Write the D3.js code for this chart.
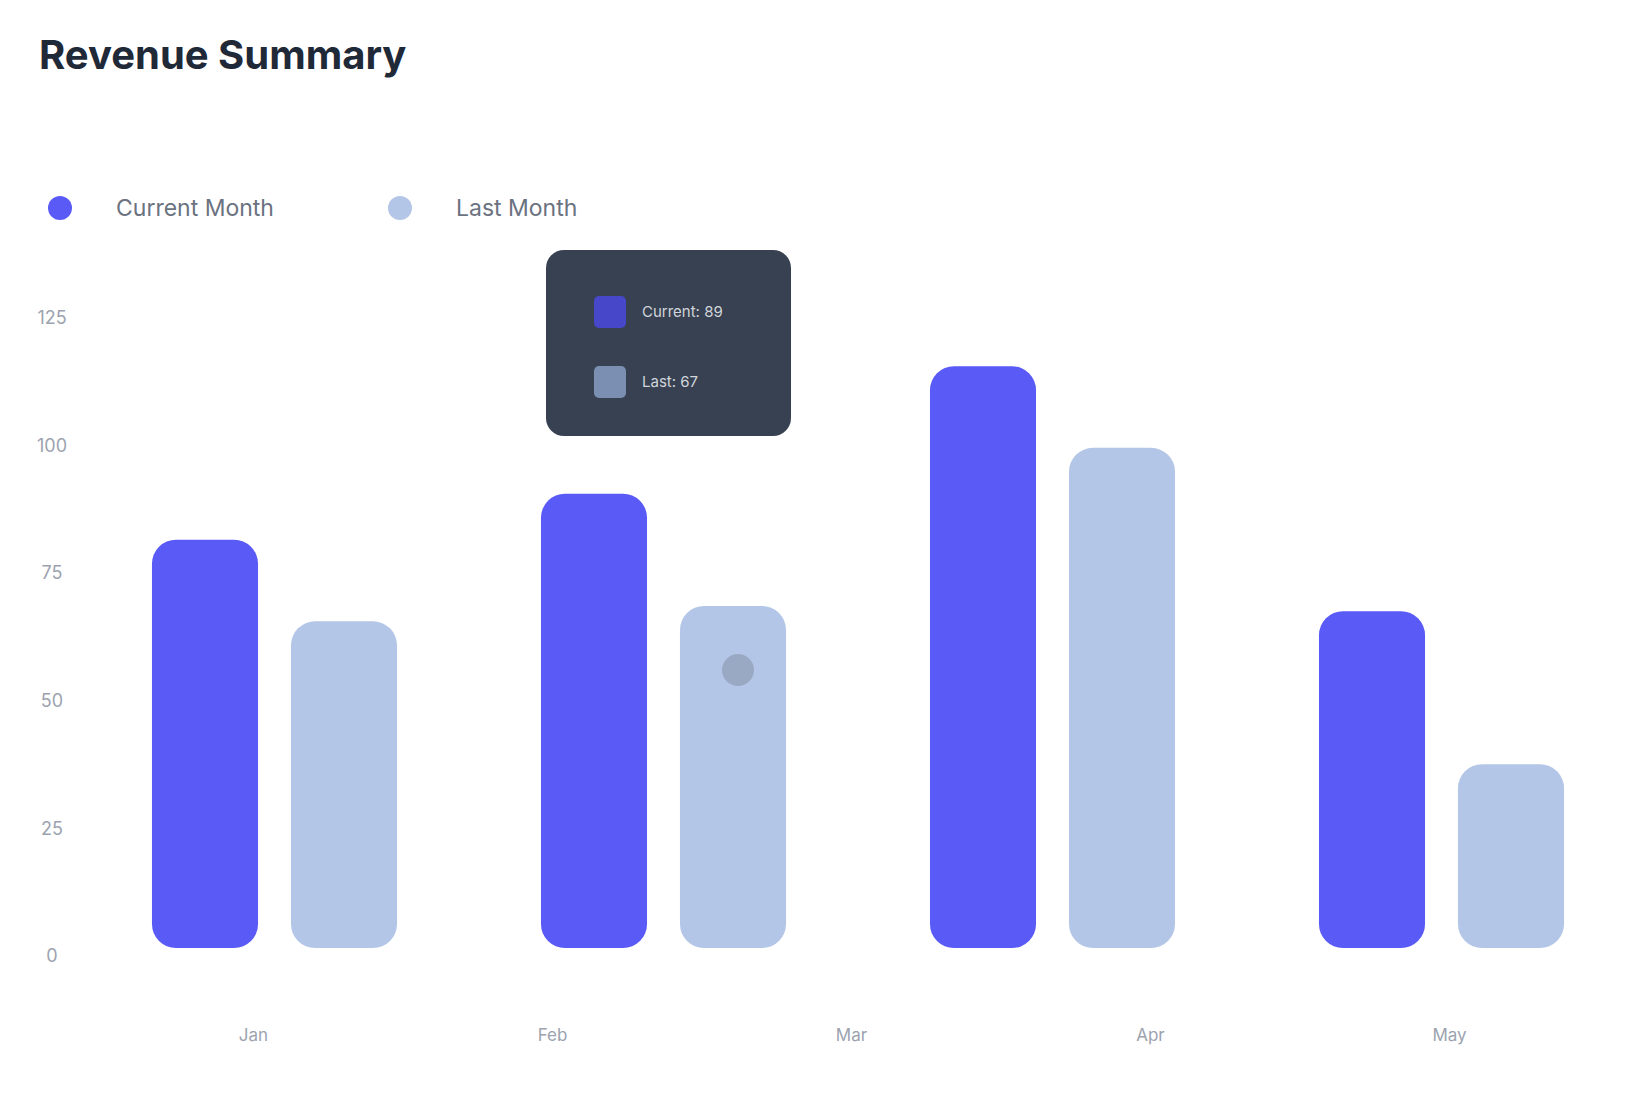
<!DOCTYPE html>
<html>
<head>
<meta charset="utf-8">
<script src="https://cdn.jsdelivr.net/npm/d3@7"></script>
<style>
  body { margin: 0; background: #fff; font-family: Inter, "Noto Sans", sans-serif; }
</style>
</head>
<body>
<svg id="chart" width="1629" height="1096"></svg>
<script>
var groups = ['G1', 'G2', 'G3', 'G4'];
var seriesNames = ['Current Month', 'Last Month'];
var currentMonth = [80, 89, 114, 66];
var lastMonth = [64, 67, 98, 36];
var yTicks = [0, 25, 50, 75, 100, 125];
var xLabels = ['Jan', 'Feb', 'Mar', 'Apr', 'May'];
var colors = ['#5a5af6', '#b4c6e7'];

var hovered = 1; // group under the cursor

var svg = d3.select('#chart');

var rows = groups.map(function(g, i) {
  return { group: g, values: [currentMonth[i], lastMonth[i]] };
});

var x0 = d3.scaleBand()
  .domain(groups)
  .range([80, 1636])
  .paddingInner(0.37)
  .paddingOuter(0.185);

var x1 = d3.scaleBand()
  .domain(seriesNames)
  .range([0, x0.bandwidth()])
  .paddingInner(0.237);

var y = d3.scaleLinear()
  .domain([0, 125])
  .range([948, 310]);

var xAxisScale = d3.scalePoint()
  .domain(xLabels)
  .range([253, 1449]);

// title
svg.append('text')
  .attr('x', 39)
  .attr('y', 69)
  .attr('font-size', 40)
  .attr('font-weight', 700)
  .attr('fill', '#1f2937')
  .text('Revenue Summary');

// legend
var legend = svg.append('g').attr('transform', 'translate(60,208)');
var legendX = [0, 340];
seriesNames.forEach(function(name, i) {
  var item = legend.append('g').attr('transform', 'translate(' + legendX[i] + ',0)');
  item.append('circle').attr('r', 12).attr('fill', colors[i]);
  item.append('text')
    .attr('x', 56)
    .attr('dy', '0.35em')
    .attr('font-size', 23)
    .attr('fill', '#6b7280')
    .text(name);
});

// y axis
var yAxis = svg.append('g')
  .attr('transform', 'translate(52,8)')
  .call(d3.axisLeft(y).tickValues(yTicks).tickSize(0).tickPadding(0));
yAxis.select('.domain').remove();
yAxis.selectAll('text')
  .attr('text-anchor', 'middle')
  .attr('font-size', 18)
  .attr('font-family', 'Inter, "Noto Sans", sans-serif')
  .attr('fill', '#9ca3af');

// x axis labels
var xAxis = svg.append('g')
  .attr('transform', 'translate(0,1029)')
  .call(d3.axisBottom(xAxisScale).tickSize(0).tickPadding(0));
xAxis.select('.domain').remove();
xAxis.selectAll('text')
  .attr('font-size', 17)
  .attr('font-family', 'Inter, "Noto Sans", sans-serif')
  .attr('fill', '#9ca3af');

// bars
var groupSel = svg.selectAll('g.group')
  .data(rows)
  .enter()
  .append('g')
  .attr('class', 'group')
  .attr('transform', function(d) { return 'translate(' + x0(d.group) + ',0)'; });

groupSel.selectAll('rect')
  .data(function(d) {
    return d.values.map(function(v, i) { return { key: seriesNames[i], value: v, i: i }; });
  })
  .enter()
  .append('rect')
  .attr('x', function(d) { return x1(d.key); })
  .attr('y', function(d) { return y(d.value); })
  .attr('width', x1.bandwidth())
  .attr('height', function(d) { return y(0) - y(d.value); })
  .attr('rx', 24)
  .attr('fill', function(d) { return colors[d.i]; });

// hover cursor on the last-month bar of the hovered group
var hx = x0(groups[hovered]) + x1(seriesNames[1]) + x1.bandwidth() / 2;
svg.append('circle')
  .attr('cx', hx + 5)
  .attr('cy', y(lastMonth[hovered]) + 64)
  .attr('r', 16)
  .attr('fill', '#6b7280')
  .attr('opacity', 0.35);

// tooltip
var tip = svg.append('g')
  .attr('transform', 'translate(' + (hx - 187) + ',250)');
tip.append('rect')
  .attr('width', 245)
  .attr('height', 186)
  .attr('rx', 18)
  .attr('fill', '#374151');

var tipVals = [currentMonth[hovered], lastMonth[hovered]];
var tipTexts = ['Current', 'Last'];
tipVals.forEach(function(v, i) {
  var row = tip.append('g').attr('transform', 'translate(0,' + (62 + i * 70) + ')');
  row.append('rect')
    .attr('x', 48)
    .attr('y', -16)
    .attr('width', 32)
    .attr('height', 32)
    .attr('rx', 5)
    .attr('fill', i === 0 ? '#4747c9' : '#7b8fb3');
  row.append('text')
    .attr('x', 96)
    .attr('dy', '0.35em')
    .attr('font-size', 15)
    .attr('fill', '#d1d5db')
    .text(tipTexts[i] + ': ' + v);
});
</script>
</body>
</html>
